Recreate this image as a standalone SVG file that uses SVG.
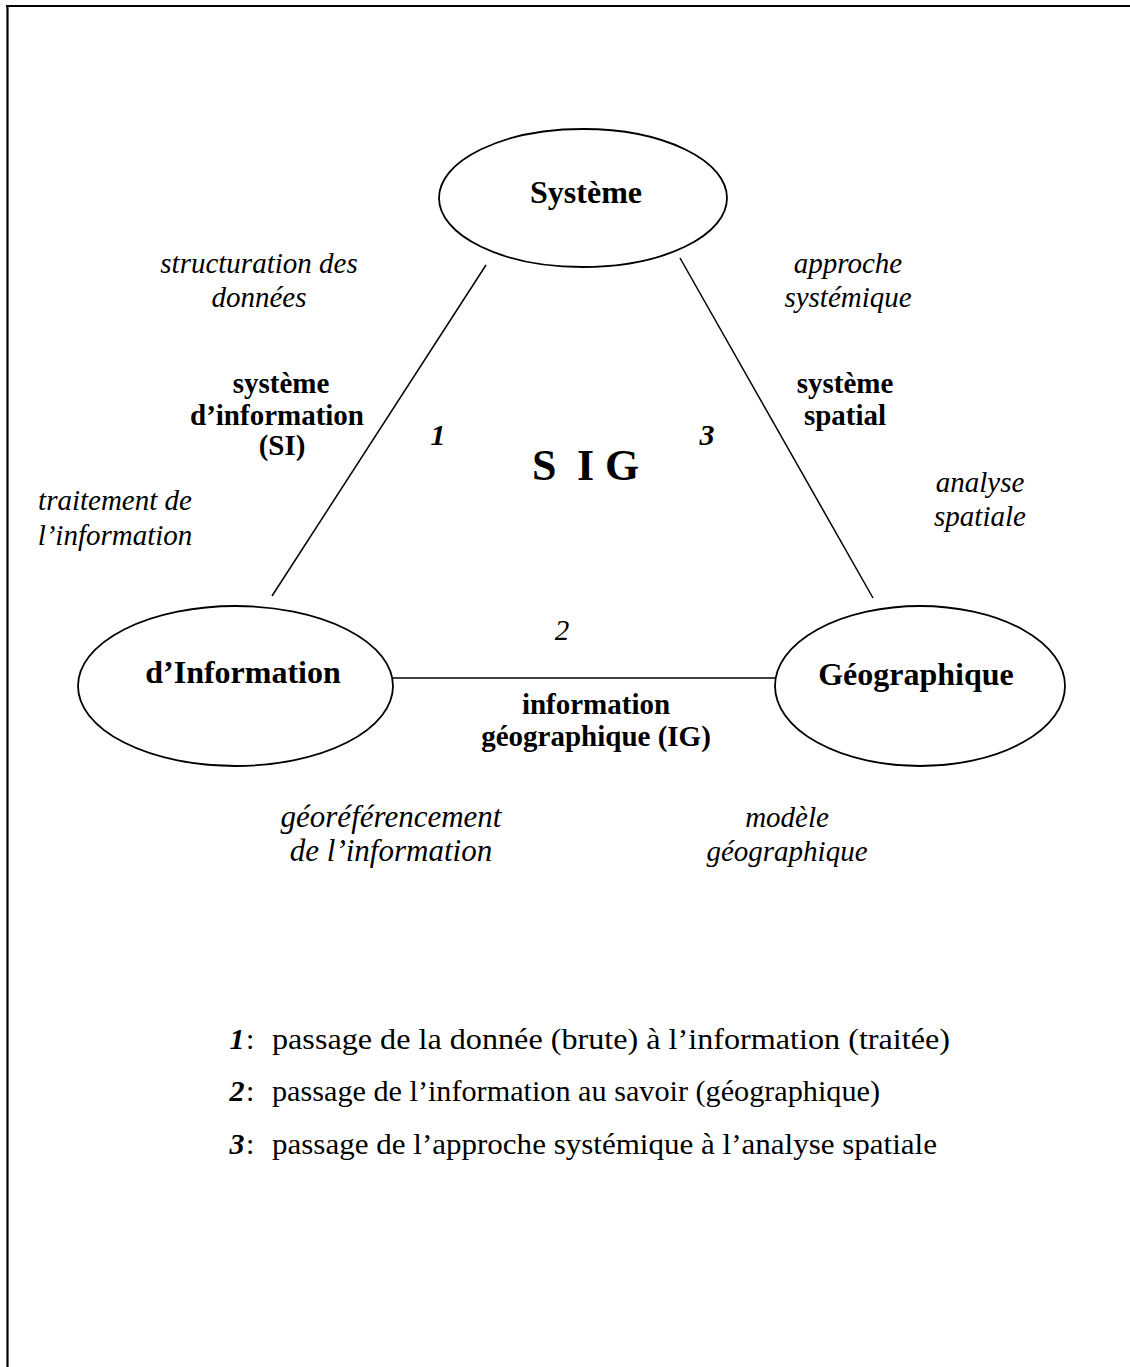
<svg xmlns="http://www.w3.org/2000/svg" width="1130" height="1367" viewBox="0 0 1130 1367">
<style>
.node{fill:#fff;stroke:#000;stroke-width:1.8}
.conn{stroke:#000;stroke-width:1.5;fill:none}
.nl{font-family:"Liberation Serif",serif;font-weight:bold;font-size:32px;text-anchor:middle;fill:#000}
.b{font-family:"Liberation Serif",serif;font-weight:bold;font-size:29px;text-anchor:middle;fill:#000}
.i{font-family:"Liberation Serif",serif;font-style:italic;font-size:29px;text-anchor:middle;fill:#000}
.num{font-family:"Liberation Serif",serif;font-style:italic;font-weight:bold;font-size:30px;text-anchor:middle;fill:#000}
.leg{font-family:"Liberation Serif",serif;font-size:30px;fill:#000}
</style>
<rect width="1130" height="1367" fill="#fff"/>
<g id="frame" stroke="#000" stroke-width="2.2" fill="none">
<line x1="6" y1="6" x2="1130" y2="6"/>
<line x1="7.5" y1="5" x2="7.5" y2="1367"/>
</g>
<g id="connectors">
<line class="conn" x1="486" y1="265" x2="272" y2="596"/>
<line class="conn" x1="680" y1="258" x2="873" y2="598"/>
<line class="conn" x1="393" y1="678" x2="775" y2="678"/>
</g>
<g id="node-systeme">
<ellipse class="node" cx="583" cy="198" rx="144" ry="69"/>
<text class="nl" x="586" y="203">Système</text>
</g>
<g id="node-information">
<ellipse class="node" cx="235.5" cy="686" rx="157.5" ry="80"/>
<text class="nl" x="243" y="683">d’Information</text>
</g>
<g id="node-geographique">
<ellipse class="node" cx="920" cy="686" rx="145" ry="80"/>
<text class="nl" x="916" y="685">Géographique</text>
</g>
<g id="labels">
<text class="i" x="259" y="273">structuration des</text>
<text class="i" x="259" y="307">données</text>
<text class="i" x="848" y="273">approche</text>
<text class="i" x="848" y="307">systémique</text>
<text class="b" x="281" y="393">système</text>
<text class="b" x="277" y="425">d’information</text>
<text class="b" x="282" y="455">(SI)</text>
<text class="b" x="845" y="393">système</text>
<text class="b" x="845" y="425">spatial</text>
<text class="num" x="438" y="445">1</text>
<text class="num" x="707" y="445">3</text>
<text font-family="Liberation Serif, serif" font-weight="bold" font-size="44" x="532" y="480">S <tspan x="577">I</tspan> <tspan x="605">G</tspan></text>
<text class="i" x="115" y="510">traitement de</text>
<text class="i" x="115" y="545">l’information</text>
<text class="i" x="980" y="492">analyse</text>
<text class="i" x="980" y="526">spatiale</text>
<text class="i" x="562" y="640">2</text>
<text class="b" x="596" y="714">information</text>
<text class="b" x="596" y="746">géographique (IG)</text>
<text class="i" x="391" y="827" style="font-size:31px">géoréférencement</text>
<text class="i" x="391" y="861" style="font-size:31px">de l’information</text>
<text class="i" x="787" y="827">modèle</text>
<text class="i" x="787" y="861">géographique</text>
</g>
<g id="legend">
<text class="num" x="237" y="1049">1</text><text class="leg" x="246" y="1049">:</text><text class="leg" x="272" y="1049" textLength="678" lengthAdjust="spacingAndGlyphs">passage de la donnée (brute) à l’information (traitée)</text>
<text class="num" x="237" y="1101">2</text><text class="leg" x="246" y="1101">:</text><text class="leg" x="272" y="1101" textLength="608" lengthAdjust="spacingAndGlyphs">passage de l’information au savoir (géographique)</text>
<text class="num" x="237" y="1154">3</text><text class="leg" x="246" y="1154">:</text><text class="leg" x="272" y="1154" textLength="665" lengthAdjust="spacingAndGlyphs">passage de l’approche systémique à l’analyse spatiale</text>
</g>
</svg>
